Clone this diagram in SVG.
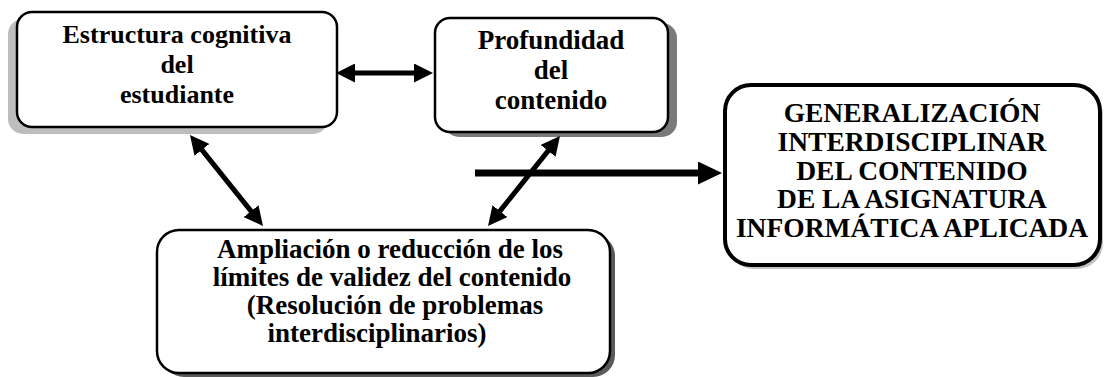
<svg xmlns="http://www.w3.org/2000/svg" width="1104" height="377" viewBox="0 0 1104 377">
<defs>
<style>
.box{fill:#fff;stroke:#000;stroke-width:2.5}
.big{fill:#fff;stroke:#000;stroke-width:4}
.t{font-family:"Liberation Serif","Times New Roman",serif;font-weight:bold;font-size:27px;text-anchor:middle;fill:#000}
.t1{font-size:26px}
.t3{font-size:27.5px}
.c{stroke:#000;fill:none;stroke-width:5}
.cb{stroke:#000;fill:none;stroke-width:7}
</style>
<marker id="ah" markerUnits="userSpaceOnUse" markerWidth="19" markerHeight="19" refX="8" refY="9.5" orient="auto-start-reverse" viewBox="0 0 19 19">
<path d="M0,0 L19,9.5 L0,19 z" fill="#000"/>
</marker>
<marker id="ahb" markerUnits="userSpaceOnUse" markerWidth="24" markerHeight="23" refX="10" refY="11.5" orient="auto" viewBox="0 0 24 23">
<path d="M0,0 L24,11.5 L0,23 z" fill="#000"/>
</marker>
</defs>
<rect width="1104" height="377" fill="#fff"/>
<g id="node-estructura">
<rect x="8" y="19" width="320" height="115" rx="15" fill="#bdbdbd"/>
<rect class="box" x="17" y="12" width="320" height="115" rx="15"/>
<text class="t t1" x="177" y="43">Estructura cognitiva</text>
<text class="t t1" x="177" y="73">del</text>
<text class="t t1" x="177" y="103">estudiante</text>
</g>
<g id="node-profundidad">
<rect x="444" y="23" width="233" height="114" rx="15" fill="#7a7a7a"/>
<rect class="box" x="435" y="18" width="233" height="114" rx="15"/>
<text class="t" x="551" y="49">Profundidad</text>
<text class="t" x="551" y="79">del</text>
<text class="t" x="551" y="109">contenido</text>
</g>
<g id="node-generalizacion">
<rect x="728" y="89" width="375" height="180" rx="26" fill="#c4c4c4"/>
<rect class="big" x="725" y="85" width="375" height="180" rx="26"/>
<text class="t t3" x="912" y="122">GENERALIZACIÓN</text>
<text class="t t3" x="912" y="151">INTERDISCIPLINAR</text>
<text class="t t3" x="912" y="180">DEL CONTENIDO</text>
<text class="t t3" x="912" y="208">DE LA ASIGNATURA</text>
<text class="t t3" x="912" y="237">INFORMÁTICA APLICADA</text>
</g>
<g id="node-ampliacion">
<rect x="162" y="234" width="453" height="143" rx="22" fill="#5a5a5a"/>
<rect class="box" x="157" y="230" width="453" height="143" rx="22"/>
<text class="t" x="390" y="258">Ampliación o reducción de los</text>
<text class="t" x="392" y="286">límites de validez del contenido</text>
<text class="t" x="395" y="314">(Resolución de problemas</text>
<text class="t" x="377" y="342">interdisciplinarios)</text>
</g>
<g id="connectors">
<line class="c" x1="347" y1="73" x2="422" y2="73" marker-start="url(#ah)" marker-end="url(#ah)"/>
<line class="c" x1="196.9" y1="143.6" x2="256.1" y2="217.4" marker-start="url(#ah)" marker-end="url(#ah)"/>
<line class="c" x1="553.1" y1="144.6" x2="494.9" y2="217.4" marker-start="url(#ah)" marker-end="url(#ah)"/>
<line class="cb" x1="475" y1="173" x2="708" y2="173" marker-end="url(#ahb)"/>
</g>
</svg>
